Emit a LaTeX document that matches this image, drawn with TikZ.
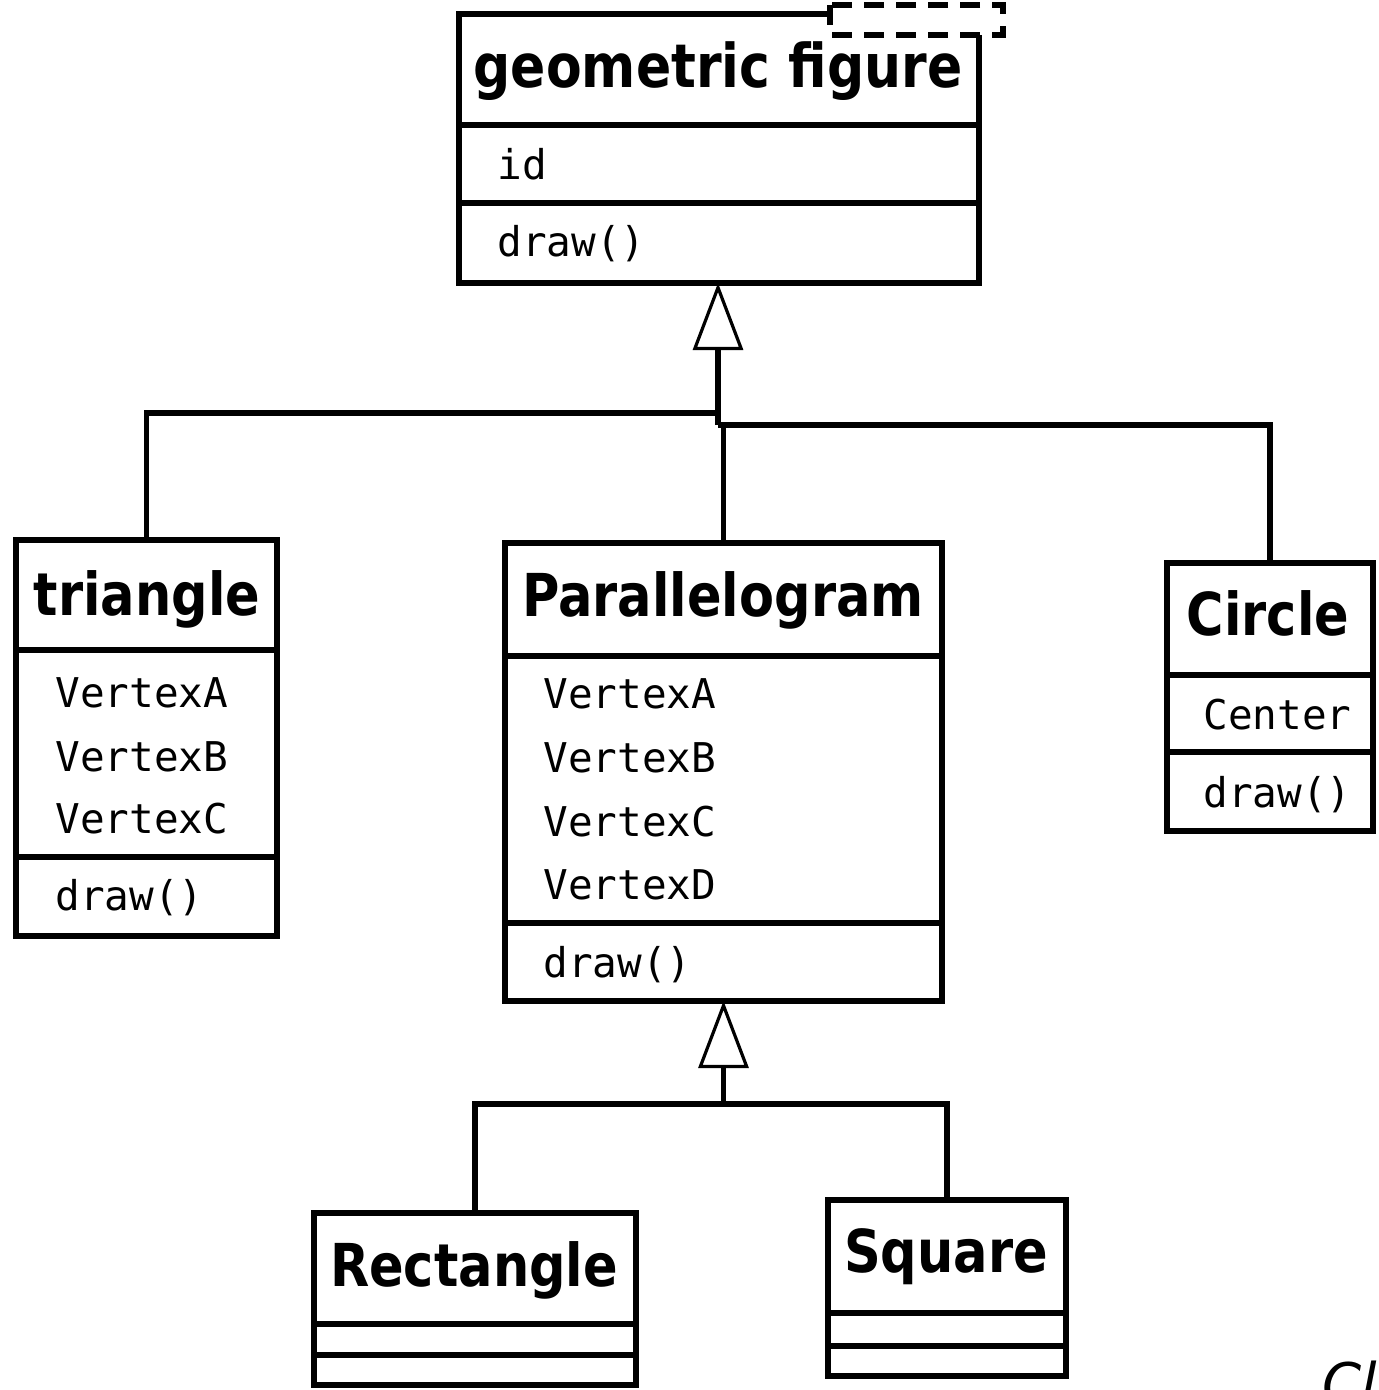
\documentclass[tikz,border=0pt]{standalone}
\usepackage{graphicx}
\usepackage{fontspec}
\setmainfont{DejaVu Sans}[BoldFont={DejaVu Sans Bold},ItalicFont={DejaVu Sans Oblique}]
\newfontfamily\memberfont{DejaVu Sans Mono}
\usetikzlibrary{arrows.meta}
% class names are set a little taller than the font's own proportions
\newcommand\tallname[1]{\scalebox{1}[1.16]{#1}}
\tikzset{
  cls/.style={draw, line width=3pt, anchor=north west, inner sep=0pt, outer sep=0pt},
  rule/.style={line width=3pt},
  link/.style={line width=2.8pt},
  gen/.style={line width=2.8pt, -{Triangle[open, length=33.5pt, width=25pt, line width=1.6pt]}},
  title/.style={anchor=base, inner sep=0pt, font=\fontsize{25.5pt}{28pt}\selectfont\bfseries},
  member/.style={anchor=base west, inner sep=0pt, font=\fontsize{20.5pt}{24pt}\memberfont},
}
\begin{document}
\begin{tikzpicture}[x=0.5pt, y=-0.5pt]
\clip (0,0) rectangle (1378,1390);
\fill[white] (0,0) rectangle (1378,1390);

% geometric figure
\node[cls, minimum width=260pt, minimum height=134.5pt] (geo) at (459,14) {};
\draw[rule] (geo.west |- 0,125) -- (geo.east |- 0,125);
\draw[rule] (geo.west |- 0,203) -- (geo.east |- 0,203);
\draw[line width=3pt, fill=white, dash pattern=on 10pt off 6pt] (830,5) rectangle (1003,35);
\node[title, font=\fontsize{26pt}{28pt}\selectfont\bfseries] (geoT) at (718,88) {\tallname{geometric figure}};
\node[member] (geoA) at (497,180) {id};
\node[member] (geoM) at (497,257) {draw()};

% triangle
\node[cls, minimum width=130.5pt, minimum height=198pt] (tri) at (16,540) {};
\draw[rule] (tri.west |- 0,650) -- (tri.east |- 0,650);
\draw[rule] (tri.west |- 0,857) -- (tri.east |- 0,857);
\node[title] (triT) at (147,615) {\tallname{triangle}};
\node[member] (triA) at (55,707) {VertexA};
\node[member] (triB) at (55,771) {VertexB};
\node[member] (triC) at (55,833) {VertexC};
\node[member] (triM) at (55,910) {draw()};

% Parallelogram
\node[cls, minimum width=218.5pt, minimum height=229pt] (par) at (505,543) {};
\draw[rule] (par.west |- 0,656) -- (par.east |- 0,656);
\draw[rule] (par.west |- 0,923) -- (par.east |- 0,923);
\node[title] (parT) at (723,616) {\tallname{Parallelogram}};
\node[member] (parA) at (543,708) {VertexA};
\node[member] (parB) at (543,772) {VertexB};
\node[member] (parC) at (543,836) {VertexC};
\node[member] (parD) at (543,899) {VertexD};
\node[member] (parM) at (543,977) {draw()};

% Circle
\node[cls, minimum width=103pt, minimum height=134pt] (cir) at (1167,563) {};
\draw[rule] (cir.west |- 0,675) -- (cir.east |- 0,675);
\draw[rule] (cir.west |- 0,752) -- (cir.east |- 0,752);
\node[title] (cirT) at (1268,635) {\tallname{Circle}};
\node[member] (cirA) at (1203,729) {Center};
\node[member] (cirM) at (1203,807) {draw()};

% Rectangle
\node[cls, minimum width=161pt, minimum height=86pt] (rect) at (314,1213) {};
\draw[rule] (rect.west |- 0,1324) -- (rect.east |- 0,1324);
\draw[rule] (rect.west |- 0,1355) -- (rect.east |- 0,1355);
\node[title] (rectT) at (474,1286) {\tallname{Rectangle}};

% Square
\node[cls, minimum width=119pt, minimum height=88pt] (sq) at (828,1200) {};
\draw[rule] (sq.west |- 0,1313) -- (sq.east |- 0,1313);
\draw[rule] (sq.west |- 0,1346) -- (sq.east |- 0,1346);
\node[title] (sqT) at (946,1272) {\tallname{Square}};

% generalisation to geometric figure
\coordinate (j1) at (718,413);
\coordinate (j2) at (718,425);
\draw[gen] (j2) -- (geo.south -| j2);
\draw[link] (tri.north) |- (j1);
\draw[link] (cir.north) |- (j2);
\draw[link] (par.north) -- (par.north |- j2);

% generalisation to Parallelogram
\coordinate (j3) at (723.5,1104);
\draw[gen] (j3) -- (par.south);
\draw[link] (rect.north) |- (j3) -| (sq.north);

% caption, cut by the page edge
\node[anchor=base west, inner sep=0pt, font=\fontsize{28pt}{30pt}\selectfont\itshape] (cap) at (1322,1403) {Cl};
\end{tikzpicture}
\end{document}
